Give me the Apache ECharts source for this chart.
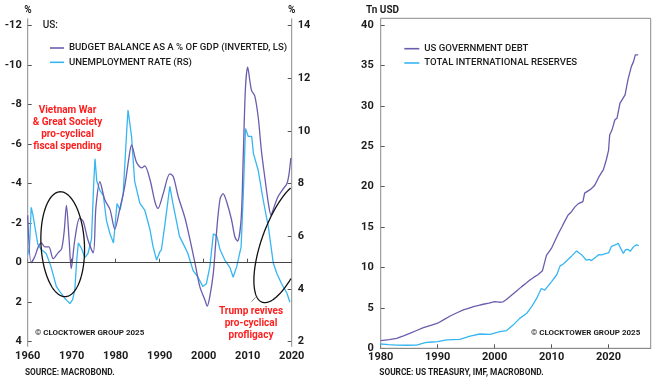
<!DOCTYPE html>
<html><head><meta charset="utf-8">
<script src="https://cdn.jsdelivr.net/npm/echarts@6/dist/echarts.min.js"></script>
<style>html,body{margin:0;padding:0;background:#fff}#c{width:660px;height:385px}</style>
</head><body><div id="c"></div>
<script>
// ---- data ----
const budgetBalance = [[1960.0,-2.4],[1960.8,0.0],[1961.6,-0.3],[1962.4,-0.8],[1963.1,-1.0],[1963.9,-0.8],[1964.8,-0.8],[1965.8,-0.2],[1966.9,-0.5],[1967.7,-0.7],[1968.3,-1.6],[1968.8,-2.9],[1969.4,-1.2],[1969.9,0.3],[1970.7,-1.15],[1971.8,-2.25],[1972.6,-2.1],[1973.7,-1.15],[1974.9,-0.5],[1975.5,-2.8],[1976.4,-4.1],[1977.5,-3.2],[1978.7,-2.7],[1979.8,-1.7],[1980.9,-2.7],[1982.0,-3.8],[1983.0,-5.3],[1983.6,-5.96],[1984.7,-5.1],[1985.9,-4.8],[1986.6,-4.9],[1987.8,-4.2],[1988.9,-3.1],[1989.6,-2.75],[1990.8,-3.5],[1992.3,-4.5],[1993.1,-4.35],[1994.2,-3.35],[1995.7,-2.3],[1996.9,-1.15],[1998.0,0.0],[1999.1,1.2],[2000.3,1.9],[2000.8,2.2],[2001.4,1.7],[2002.2,0.5],[2002.9,-1.5],[2003.7,-3.2],[2004.4,-3.5],[2005.2,-3.1],[2006.3,-2.2],[2007.1,-1.3],[2007.7,-1.1],[2008.5,-2.2],[2009.0,-5.5],[2009.5,-8.9],[2010.0,-9.9],[2010.5,-9.2],[2010.9,-8.7],[2011.6,-8.45],[2012.4,-7.35],[2013.1,-5.7],[2013.9,-4.3],[2014.7,-3.0],[2015.3,-2.4],[2015.8,-2.7],[2016.9,-3.35],[2018.1,-3.75],[2018.9,-4.0],[2019.4,-4.5],[2019.8,-5.3]];
const unemploymentRate = [[1960.0,5.3],[1960.4,5.6],[1960.8,7.1],[1961.2,6.8],[1961.6,6.4],[1962.3,5.7],[1963.1,5.5],[1964.2,5.35],[1965.3,4.85],[1966.5,4.1],[1967.3,3.9],[1967.8,3.8],[1968.4,3.65],[1969.0,3.55],[1969.6,3.45],[1970.2,3.6],[1970.7,3.95],[1971.1,5.0],[1971.5,5.75],[1972.2,5.55],[1973.0,5.2],[1973.7,5.35],[1974.5,5.9],[1975.0,8.0],[1975.3,8.95],[1975.7,8.1],[1976.4,7.75],[1977.2,7.55],[1977.9,6.6],[1978.7,6.1],[1979.5,5.75],[1980.3,7.25],[1981.0,7.0],[1981.7,7.6],[1982.5,10.0],[1982.8,10.8],[1983.6,9.8],[1984.3,8.1],[1985.5,7.25],[1986.6,7.0],[1987.8,6.25],[1988.5,5.6],[1989.3,5.1],[1990.0,5.4],[1990.4,5.5],[1991.1,6.35],[1992.3,7.9],[1993.0,7.25],[1994.5,6.0],[1995.7,5.6],[1996.4,5.35],[1997.6,4.7],[1998.7,4.45],[1999.8,4.1],[2000.6,4.2],[2001.4,4.85],[2002.2,6.1],[2003.0,6.0],[2003.7,5.5],[2004.8,5.1],[2006.0,4.8],[2006.7,4.45],[2007.5,4.85],[2008.5,5.6],[2009.0,7.6],[2009.5,10.1],[2010.1,9.8],[2010.9,9.8],[2011.3,9.15],[2012.4,8.5],[2013.5,7.4],[2014.7,6.35],[2015.8,5.0],[2016.6,4.6],[2017.7,4.2],[2018.9,3.85],[2019.6,3.5]];
const govDebt = [[1980,0.94],[1981.5,1.08],[1982.8,1.24],[1984,1.55],[1985.1,1.85],[1986.3,2.2],[1987.5,2.55],[1988.8,2.85],[1990,3.1],[1991.1,3.55],[1992.2,4.0],[1993.4,4.4],[1994.5,4.75],[1995.4,4.95],[1996.3,5.15],[1997.2,5.3],[1998,5.45],[1999,5.6],[2000,5.77],[2000.8,5.7],[2001.5,5.75],[2002.0,6.0],[2002.7,6.4],[2003.7,7.0],[2004.7,7.6],[2005.5,8.05],[2006.2,8.45],[2006.9,8.8],[2007.6,9.1],[2008.4,9.6],[2008.8,10.7],[2009.1,11.5],[2010,12.4],[2010.6,13.3],[2011.2,14.2],[2011.8,15.0],[2012.3,15.7],[2012.9,16.5],[2013.5,16.9],[2014.1,17.5],[2014.7,17.9],[2015.0,18.1],[2015.5,18.15],[2015.8,19.2],[2016.7,19.6],[2017.2,19.9],[2017.6,20.2],[2018.3,21.2],[2019.1,22.1],[2019.6,23.3],[2020.0,24.5],[2020.2,26.4],[2020.6,27.0],[2021.1,28.25],[2021.5,28.5],[2022,30.3],[2022.5,30.9],[2022.9,31.35],[2023.2,31.4],[2023.4,33.2],[2024.0,34.85],[2024.4,35.5],[2024.7,36.3],[2025.2,36.3]];
const intlReserves = [[1980,0.53],[1981.4,0.45],[1982.8,0.4],[1984.5,0.38],[1986.3,0.4],[1987.8,0.7],[1989,0.78],[1990,0.82],[1991.6,1.03],[1993.9,1.1],[1995.7,1.5],[1997.4,1.77],[1999.2,1.73],[2000.9,2.05],[2002.1,2.2],[2003.3,2.9],[2004.4,3.7],[2005.6,4.3],[2006.5,5.15],[2007.4,6.2],[2008.2,7.4],[2008.8,7.2],[2009.1,7.0],[2010,8.25],[2010.9,9.1],[2011.5,10.2],[2012.0,10.4],[2012.6,10.8],[2013.5,11.4],[2014.4,12.05],[2015.3,11.55],[2016.1,10.9],[2016.6,11.0],[2017,10.85],[2017.9,11.35],[2018.3,11.6],[2018.8,11.55],[2019.6,11.75],[2020.0,11.8],[2020.5,12.6],[2021.2,12.8],[2021.7,13.0],[2022.1,12.4],[2022.6,11.75],[2023.0,12.2],[2023.4,12.25],[2023.8,12.0],[2024.3,12.5],[2024.9,12.8],[2025.3,12.7]];
const leftSeriesNames = ['BUDGET BALANCE AS A % OF GDP (INVERTED, LS)', 'UNEMPLOYMENT RATE (RS)'];
const rightSeriesNames = ['US GOVERNMENT DEBT', 'TOTAL INTERNATIONAL RESERVES'];

// ---- styling ----
const FONT = 'Roboto, "Noto Sans", sans-serif';
const PURPLE = '#6b5cae', BLUE = '#36b6f1', RED = '#ff1e1e', INK = '#1c1c1c', AXIS = '#8a8a8a';

function ellipsePts(cx, cy, a, b, tiltDeg, n) {
  const th = tiltDeg * Math.PI / 180;
  const ux = Math.sin(th), uy = -Math.cos(th), vx = Math.cos(th), vy = Math.sin(th);
  const pts = [];
  for (let i = 0; i < n; i++) {
    const t = 2 * Math.PI * i / n;
    pts.push([cx + a * Math.cos(t) * ux + b * Math.sin(t) * vx, cy + a * Math.cos(t) * uy + b * Math.sin(t) * vy]);
  }
  return pts;
}
function clippedRuns(pts, xMax) {
  const start = pts.findIndex(p => p[0] > xMax);
  if (start < 0) return [pts.concat([pts[0]])];
  const runs = []; let cur = [];
  for (let k = 0; k <= pts.length; k++) {
    const p = pts[(start + k) % pts.length];
    if (p[0] <= xMax) cur.push(p); else { if (cur.length > 1) runs.push(cur); cur = []; }
  }
  if (cur.length > 1) runs.push(cur);
  return runs;
}
const ellStyle = { stroke: '#111', lineWidth: 1.3, fill: null };
const leftEll = ellipsePts(62.7, 244.2, 52.5, 21.7, -3, 240);
const rightEllRuns = clippedRuns(ellipsePts(284, 242, 64, 22, 20, 360), 291);

function txt(text, x, y, opts) {
  return Object.assign({ type: 'text', silent: true, z: 50,
    style: Object.assign({ text, x, y, fill: INK, font: 'bold 9.5px ' + FONT, textAlign: 'left', textVerticalAlign: 'middle' }, opts || {}) });
}

const chart = echarts.init(document.getElementById('c'), null, { renderer: 'canvas' });
const numLabel = { fontFamily: FONT, fontSize: 11, fontWeight: 'bold', color: INK };
const legendText = { fontFamily: FONT, fontSize: 9.6, fontWeight: 500, color: INK, lineHeight: 12 };
chart.setOption({
  animation: false,
  backgroundColor: '#fff',
  grid: [
    { left: 27.7, right: 368.3, top: 25.7, bottom: 43.3 },
    { left: 380.7, right: 9.3, top: 25, bottom: 36.7 }
  ],
  xAxis: [
    { type: 'value', gridIndex: 0, min: 1960, max: 2020, interval: 10, offset: 5,
      axisLine: { lineStyle: { color: AXIS } }, axisTick: { inside: true, length: 4, lineStyle: { color: '#555' } },
      splitLine: { show: false }, axisLabel: Object.assign({ margin: 4, formatter: v => String(v) }, numLabel) },
    { type: 'value', gridIndex: 1, min: 1980, max: 2027.4, interval: 10,
      axisLine: { lineStyle: { color: AXIS } }, axisTick: { inside: true, length: 4, lineStyle: { color: '#555' } },
      splitLine: { show: false }, axisLabel: Object.assign({ margin: 3, showMaxLabel: false, formatter: v => (v % 10 === 0 ? String(v) : '') }, numLabel) }
  ],
  yAxis: [
    { type: 'value', gridIndex: 0, position: 'left', inverse: true, min: -12, max: 4, interval: 2,
      axisLine: { show: false }, axisTick: { show: true, inside: true, length: 4, lineStyle: { color: '#555' } },
      splitLine: { show: false }, axisLabel: Object.assign({ margin: 6 }, numLabel) },
    { type: 'value', gridIndex: 0, position: 'right', min: 2, max: 14, interval: 2,
      axisLine: { show: false }, axisTick: { show: true, inside: true, length: 4, lineStyle: { color: '#555' } },
      splitLine: { show: false }, axisLabel: Object.assign({ margin: 6 }, numLabel) },
    { type: 'value', gridIndex: 1, min: 0, max: 40, interval: 5,
      axisLine: { show: false }, axisTick: { show: true, inside: true, length: 4, lineStyle: { color: '#555' } },
      splitLine: { show: false }, axisLabel: Object.assign({ margin: 7 }, numLabel) }
  ],
  legend: [
    { data: leftSeriesNames, orient: 'vertical', left: 45, top: 37, icon: 'rect', itemWidth: 14, itemHeight: 1.6, itemGap: 2.3,
      textStyle: legendText },
    { data: rightSeriesNames, orient: 'vertical', left: 399.3, top: 37.7, icon: 'rect', itemWidth: 15, itemHeight: 1.6, itemGap: 2.3,
      textStyle: legendText }
  ],
  series: [
    { type: 'line', name: leftSeriesNames[0], xAxisIndex: 0, yAxisIndex: 0, data: budgetBalance, symbol: 'none',
      smooth: 0.3, z: 4, lineStyle: { color: PURPLE, width: 1.3 }, itemStyle: { color: PURPLE },
      markLine: { silent: true, symbol: 'none', label: { show: false }, lineStyle: { color: '#444', width: 1, type: 'solid' }, data: [{ yAxis: 0 }] } },
    { type: 'line', name: leftSeriesNames[1], xAxisIndex: 0, yAxisIndex: 1, data: unemploymentRate, symbol: 'none',
      z: 3, lineStyle: { color: BLUE, width: 1.3 }, itemStyle: { color: BLUE } },
    { type: 'line', name: rightSeriesNames[0], xAxisIndex: 1, yAxisIndex: 2, data: govDebt, symbol: 'none',
      z: 4, lineStyle: { color: PURPLE, width: 1.3 }, itemStyle: { color: PURPLE } },
    { type: 'line', name: rightSeriesNames[1], xAxisIndex: 1, yAxisIndex: 2, data: intlReserves, symbol: 'none',
      z: 3, lineStyle: { color: BLUE, width: 1.3 }, itemStyle: { color: BLUE } }
  ],
  graphic: [
    { type: 'line', silent: true, z: 1, shape: { x1: 27.7, y1: 18.3, x2: 27.7, y2: 346.7 }, style: { stroke: AXIS, lineWidth: 1 } },
    { type: 'line', silent: true, z: 1, shape: { x1: 291.7, y1: 18.3, x2: 291.7, y2: 346.7 }, style: { stroke: AXIS, lineWidth: 1 } },
    { type: 'rect', silent: true, z: 1, shape: { x: 380.7, y: 18.3, width: 270, height: 330 }, style: { stroke: AXIS, lineWidth: 1, fill: null } },
    { type: 'polyline', silent: true, z: 30, shape: { points: leftEll.concat([leftEll[0]]) }, style: ellStyle },
    ...rightEllRuns.map(r => ({ type: 'polyline', silent: true, z: 30, shape: { points: r }, style: ellStyle })),
    { type: 'line', silent: true, z: 30, shape: { x1: 251.5, y1: 301.7, x2: 255.5, y2: 297.3 }, style: { stroke: '#888', lineWidth: 1 } },
    txt('%', 28, 10, { textAlign: 'center', font: 'bold 10px ' + FONT }),
    txt('%', 291.7, 10, { textAlign: 'center', font: 'bold 10px ' + FONT }),
    txt('Tn USD', 366, 10.3, { font: 'bold 10px ' + FONT }),
    txt('US:', 42.7, 25.7, { font: '500 10px ' + FONT }),
    txt('Vietnam War\n& Great Society\npro-cyclical\nfiscal spending', 67.5, 128.4, { textAlign: 'center', fill: RED, font: 'bold 10px ' + FONT, lineHeight: 12.2 }),
    txt('Trump revives\npro-cyclical\nprofligacy', 251, 323.8, { textAlign: 'center', fill: RED, font: 'bold 10px ' + FONT, lineHeight: 12 }),
    txt('\u00a9 CLOCKTOWER GROUP 2025', 35, 333.3, { font: 'bold 8px ' + FONT }),
    txt('\u00a9 CLOCKTOWER GROUP 2025', 531, 333.3, { font: 'bold 8px ' + FONT }),
    txt('SOURCE: MACROBOND.', 25, 372.7, { font: 'bold 8.3px ' + FONT }),
    txt('SOURCE: US TREASURY, IMF, MACROBOND.', 379.3, 372.7, { font: 'bold 8.3px ' + FONT })
  ]
});
</script></body></html>
